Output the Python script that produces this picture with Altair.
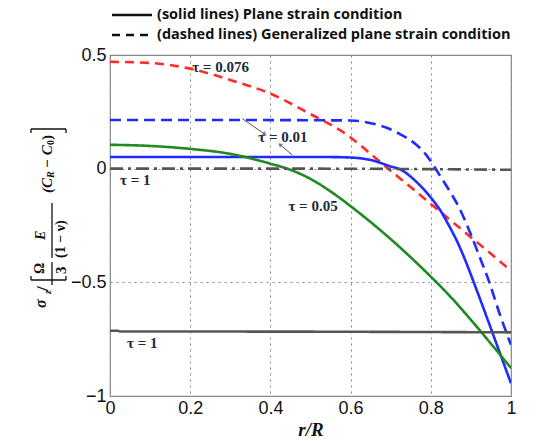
import altair as alt
import pandas as pd

# ---- data ----
red_dash_x = [0, 0.1, 0.2, 0.3, 0.4, 0.5, 0.59, 0.65, 0.68, 0.725, 0.758, 0.7875, 0.817, 0.842, 0.875, 0.908, 0.958, 1.0]
red_dash_y = [0.47, 0.465, 0.44, 0.39, 0.33, 0.24, 0.15, 0.065, 0.02, -0.045, -0.093, -0.137, -0.18, -0.217, -0.265, -0.313, -0.386, -0.45]

blue_dash_x = [0, 0.3, 0.6, 0.65, 0.69, 0.725, 0.7625, 0.7875, 0.808, 0.829, 0.85, 0.871, 0.9, 0.92, 0.946, 0.971, 1.0]
blue_dash_y = [0.214, 0.214, 0.212, 0.2, 0.18, 0.15, 0.107, 0.063, 0.011, -0.048, -0.107, -0.173, -0.29, -0.38, -0.50, -0.635, -0.775]

blue_solid_x = [0, 0.3, 0.55, 0.6, 0.65, 0.7, 0.725, 0.758, 0.783, 0.804, 0.825, 0.846, 0.867, 0.883, 0.9125, 0.942, 0.971, 1.0]
blue_solid_y = [0.051, 0.051, 0.051, 0.049, 0.038, 0.01, -0.004, -0.048, -0.092, -0.136, -0.187, -0.253, -0.325, -0.39, -0.525, -0.665, -0.805, -0.944]

green_x = [0, 0.1, 0.2, 0.3, 0.4, 0.45, 0.5, 0.55, 0.6, 0.65, 0.7, 0.75, 0.8, 0.85, 0.9, 0.95, 1.0]
green_y = [0.105, 0.1, 0.087, 0.065, 0.022, -0.005, -0.045, -0.1, -0.165, -0.235, -0.31, -0.39, -0.475, -0.565, -0.665, -0.77, -0.877]

gray_dash_x = [0, 0.5, 1.0]
gray_dash_y = [0.0, 0.0, -0.005]

gray_solid_x = [0, 0.02, 0.025, 0.5, 1.0]
gray_solid_y = [-0.713, -0.713, -0.716, -0.717, -0.72]

series_names = ["red_dash", "blue_dash", "blue_solid", "green", "gray_dash", "gray_solid"]
series_colors = ["#ff2a2a", "#1f2bff", "#1f2bff", "#1f8a1f", "#555555", "#555555"]
series_dashes = [[9, 6], [11, 6], [1, 0], [1, 0], [13, 5, 3, 5], [1, 0]]

label_text = ["τ = 0.076", "τ = 0.01", "τ = 1", "τ = 0.05", "τ = 1"]
label_x = [0.205, 0.37, 0.025, 0.445, 0.0425]
label_y = [0.448, 0.14, -0.05, -0.165, -0.765]

arrow_x = [0.33, 0.455]
arrow_y = [0.22, 0.06]
arrow_x2 = [0.385, 0.425]
arrow_y2 = [0.153, 0.104]
arrow_angle = [124, 310]

legend_solid = "(solid lines) Plane strain condition"
legend_dashed = "(dashed lines) Generalized plane strain condition"

# y-axis title pieces (rotated fraction expression)
yt_text = ["σ", "z", "/", "Ω", "3", "E", "(1 − ν)", "(C", "R", "− C", "0", ")"]
yt_size = [16, 10, 17, 14, 15, 14, 14, 15, 10, 15, 10, 15]
yt_style = ["italic", "italic", "normal", "normal", "normal", "italic", "normal",
            "italic", "italic", "italic", "normal", "normal"]
yt_px = [41, 48, 43, 40, 61, 41, 61, 47, 51, 47, 51, 47]
yt_py = [308, 294, 291, 274, 274, 240, 258, 193, 178, 168, 145, 140]

# ---- tables ----
rows = []
for name, xs, ys in zip(series_names,
                        [red_dash_x, blue_dash_x, blue_solid_x, green_x, gray_dash_x, gray_solid_x],
                        [red_dash_y, blue_dash_y, blue_solid_y, green_y, gray_dash_y, gray_solid_y]):
    for i, (a, b) in enumerate(zip(xs, ys)):
        rows.append({"s": name, "x": a, "y": b, "o": i})
df = pd.DataFrame(rows)

lab_df = pd.DataFrame({"t": label_text, "x": label_x, "y": label_y})
arr_df = pd.DataFrame({"x": arrow_x, "y": arrow_y, "x2": arrow_x2, "y2": arrow_y2, "a": arrow_angle})
one = pd.DataFrame({"k": [0]})

xscale = alt.Scale(domain=[0, 1], nice=False, zero=False)
yscale = alt.Scale(domain=[-1, 0.5], nice=False, zero=False)

ylab = "datum.value == -1 ? '\u22121' : datum.value == 0 ? '0' : format(datum.value, '.1f')"

lines = alt.Chart(df).mark_line(strokeWidth=2.6, clip=True, interpolate="monotone").encode(
    x=alt.X("x:Q", scale=xscale,
            axis=alt.Axis(values=[0, 0.2, 0.4, 0.6, 0.8, 1.0], format="~g",
                          title="r/R", titleFont="Liberation Serif", titleFontStyle="italic",
                          titleFontWeight="bold", titleFontSize=19, titleColor="#111",
                          titlePadding=3,
                          labelFont="Liberation Sans", labelFontSize=18, labelColor="#111",
                          labelPadding=3, labelFlush=False,
                          grid=True, gridDash=[2, 4], gridColor="#888", gridWidth=1,
                          ticks=False, domain=False)),
    y=alt.Y("y:Q", scale=yscale,
            axis=alt.Axis(values=[-1, -0.5, 0, 0.5], labelExpr=ylab, title="",
                          labelFont="Liberation Sans", labelFontSize=18, labelColor="#111",
                          labelPadding=4, labelFlush=False,
                          grid=True, gridDash=[2, 4], gridColor="#888", gridWidth=1,
                          ticks=False, domain=False)),
    color=alt.Color("s:N", scale=alt.Scale(domain=series_names, range=series_colors), legend=None),
    strokeDash=alt.StrokeDash("s:N", scale=alt.Scale(domain=series_names, range=series_dashes), legend=None),
    detail="s:N",
    order="o:Q",
)

labels = alt.Chart(lab_df).mark_text(
    align="left", baseline="middle", font="Liberation Serif", fontWeight="bold",
    fontSize=15, color="#1c2a3a"
).encode(x=alt.X("x:Q", scale=xscale), y=alt.Y("y:Q", scale=yscale), text="t:N")

arrows = alt.Chart(arr_df).mark_rule(color="#555", strokeWidth=1).encode(
    x=alt.X("x:Q", scale=xscale), y=alt.Y("y:Q", scale=yscale), x2="x2:Q", y2="y2:Q")
heads = alt.Chart(arr_df).mark_point(shape="triangle", filled=True, size=25, color="#555").encode(
    x=alt.X("x2:Q", scale=xscale), y=alt.Y("y2:Q", scale=yscale),
    angle=alt.Angle("a:Q", scale=None))

leg_solid_line = alt.Chart(one).mark_rule(color="#111", strokeWidth=2.5).encode(
    x=alt.value(2), x2=alt.value(42), y=alt.value(-40))
leg_dash_line = alt.Chart(one).mark_rule(color="#111", strokeWidth=2.5, strokeDash=[8, 6]).encode(
    x=alt.value(2), x2=alt.value(42), y=alt.value(-20))
leg_solid_text = alt.Chart(one).mark_text(
    align="left", baseline="middle", font="Open Sans", fontWeight="bold", fontSize=14.5, color="#111",
    text=legend_solid).encode(x=alt.value(47), y=alt.value(-40))
leg_dash_text = alt.Chart(one).mark_text(
    align="left", baseline="middle", font="Open Sans", fontWeight="bold", fontSize=14.5, color="#111",
    text=legend_dashed).encode(x=alt.value(47), y=alt.value(-20))

# rotated y-axis title built from pieces (positions in page pixels, shifted to plot origin)
OX, OY = 110, 55
title_parts = []
for t, s, st, px, py in zip(yt_text, yt_size, yt_style, yt_px, yt_py):
    title_parts.append(
        alt.Chart(one).mark_text(
            text=t, angle=270, align="left", baseline="middle",
            font="Liberation Serif", fontWeight="bold", fontStyle=st, fontSize=s, color="#111"
        ).encode(x=alt.value(px - OX), y=alt.value(py - OY))
    )
# fraction bars and brackets: (x1, y1, x2, y2) in page pixels
bar_x1 = [52, 52, 31, 31, 66, 31, 31, 66]
bar_y1 = [262, 203, 280, 280, 280, 129, 129, 129]
bar_x2 = [52, 52, 66, 31, 66, 66, 31, 66]
bar_y2 = [285, 258, 280, 276, 276, 129, 133, 133]
for a, b, c, d in zip(bar_x1, bar_y1, bar_x2, bar_y2):
    title_parts.append(
        alt.Chart(one).mark_rule(color="#111", strokeWidth=1.3).encode(
            x=alt.value(a - OX), y=alt.value(b - OY), x2=alt.value(c - OX), y2=alt.value(d - OY))
    )

chart = alt.layer(lines, labels, arrows, heads,
                  leg_solid_line, leg_dash_line, leg_solid_text, leg_dash_text,
                  *title_parts).properties(
    width=401, height=341,
    autosize=alt.AutoSizeParams(type="none"),
    padding={"left": 110, "top": 55, "right": 27, "bottom": 45},
).configure_view(stroke="#888", strokeWidth=1.2)

chart.save("out.html", embed_options={"renderer": "svg", "actions": False})
